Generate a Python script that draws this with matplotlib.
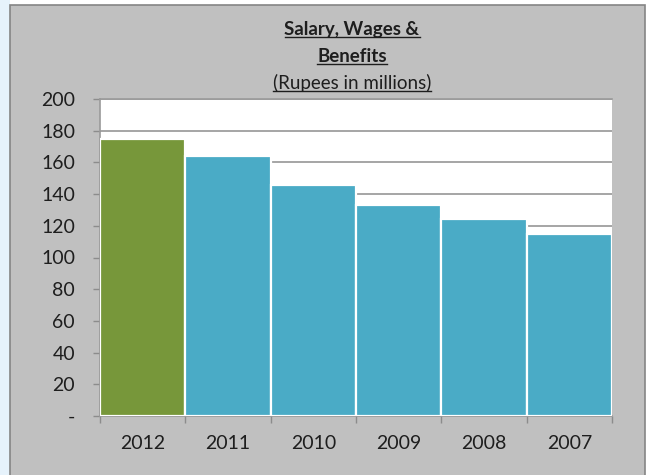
import matplotlib
matplotlib.use("Agg")
import matplotlib.pyplot as plt
from matplotlib.patches import Rectangle
from matplotlib.lines import Line2D

# Salary, wages & benefits by year (Rupees in millions)
years = ["2012", "2011", "2010", "2009", "2008", "2007"]
amounts = [175, 164, 146, 133, 124, 115]
bar_colors = ["#77973a", "#4aabc6", "#4aabc6", "#4aabc6", "#4aabc6", "#4aabc6"]
yticks = [0, 20, 40, 60, 80, 100, 120, 140, 160, 180, 200]
ytick_labels = ["-"] + [str(v) for v in yticks[1:]]

plt.rcParams["font.family"] = ["Lato", "DejaVu Sans"]

W, H = 649, 475
fig = plt.figure(figsize=(W / 100, H / 100), dpi=100)
fig.patch.set_facecolor("white")

# pale slide background strip and the grey chart frame
fig.patches.append(Rectangle((0, 0), 10 / W, 1, transform=fig.transFigure,
                             facecolor="#e6f2fb", edgecolor="none", zorder=-2))
fig.patches.append(Rectangle((10 / W, -0.01), 635 / W, 1.01 - 5 / H,
                             transform=fig.transFigure, facecolor="#c0c0c0",
                             edgecolor="#858585", linewidth=1.2, zorder=-1))

ax = fig.add_axes([100 / W, (H - 416) / H, 512 / W, 317 / H])
ax.set_facecolor("white")

x = list(range(len(years)))
ax.bar(x, amounts, width=1.0, color=bar_colors, edgecolor="white",
       linewidth=1.6, zorder=3)

ax.set_xlim(-0.5, len(years) - 0.5)
ax.set_ylim(0, 200)
ax.set_yticks(yticks)
ax.set_yticklabels(ytick_labels)
ax.yaxis.grid(True, color="#9e9e9e", linewidth=1.3, zorder=1)
ax.set_axisbelow(True)

ax.set_xticks(x)
ax.set_xticklabels(years)
ax.set_xticks([i - 0.5 for i in range(len(years) + 1)], minor=True)
ax.tick_params(axis="x", which="major", length=0, pad=14, labelsize=14,
               labelcolor="#1e1e1e")
ax.tick_params(axis="x", which="minor", length=5, color="#8c8c8c", width=1)
ax.tick_params(axis="y", length=5, color="#8c8c8c", width=1, pad=13,
               labelsize=14, labelcolor="#1e1e1e")

for side in ("left", "bottom", "top"):
    ax.spines[side].set_color("#9a9a9a")
    ax.spines[side].set_linewidth(1.2)
ax.spines["right"].set_visible(False)

# three-line underlined heading
title_lines = [("Salary, Wages &", "bold", 30),
               ("Benefits", "bold", 57),
               ("(Rupees in millions)", "normal", 83)]
cx = 352 / W
texts = []
for txt, weight, ypix in title_lines:
    t = fig.text(cx, 1 - ypix / H, txt, ha="center", va="center",
                 fontsize=13.5, fontweight=weight, color="#1e1e1e")
    texts.append(t)

fig.canvas.draw()
renderer = fig.canvas.get_renderer()
inv = fig.transFigure.inverted()
for t in texts:
    bb = t.get_window_extent(renderer)
    (x0, y0), (x1, _) = inv.transform([(bb.x0, bb.y0), (bb.x1, bb.y1)])
    y_line = y0 + 1.5 / H
    fig.lines.append(Line2D([x0, x1], [y_line, y_line], transform=fig.transFigure,
                            color="#1e1e1e", linewidth=1.0))

fig.savefig("out.png", dpi=100, facecolor=fig.get_facecolor())
